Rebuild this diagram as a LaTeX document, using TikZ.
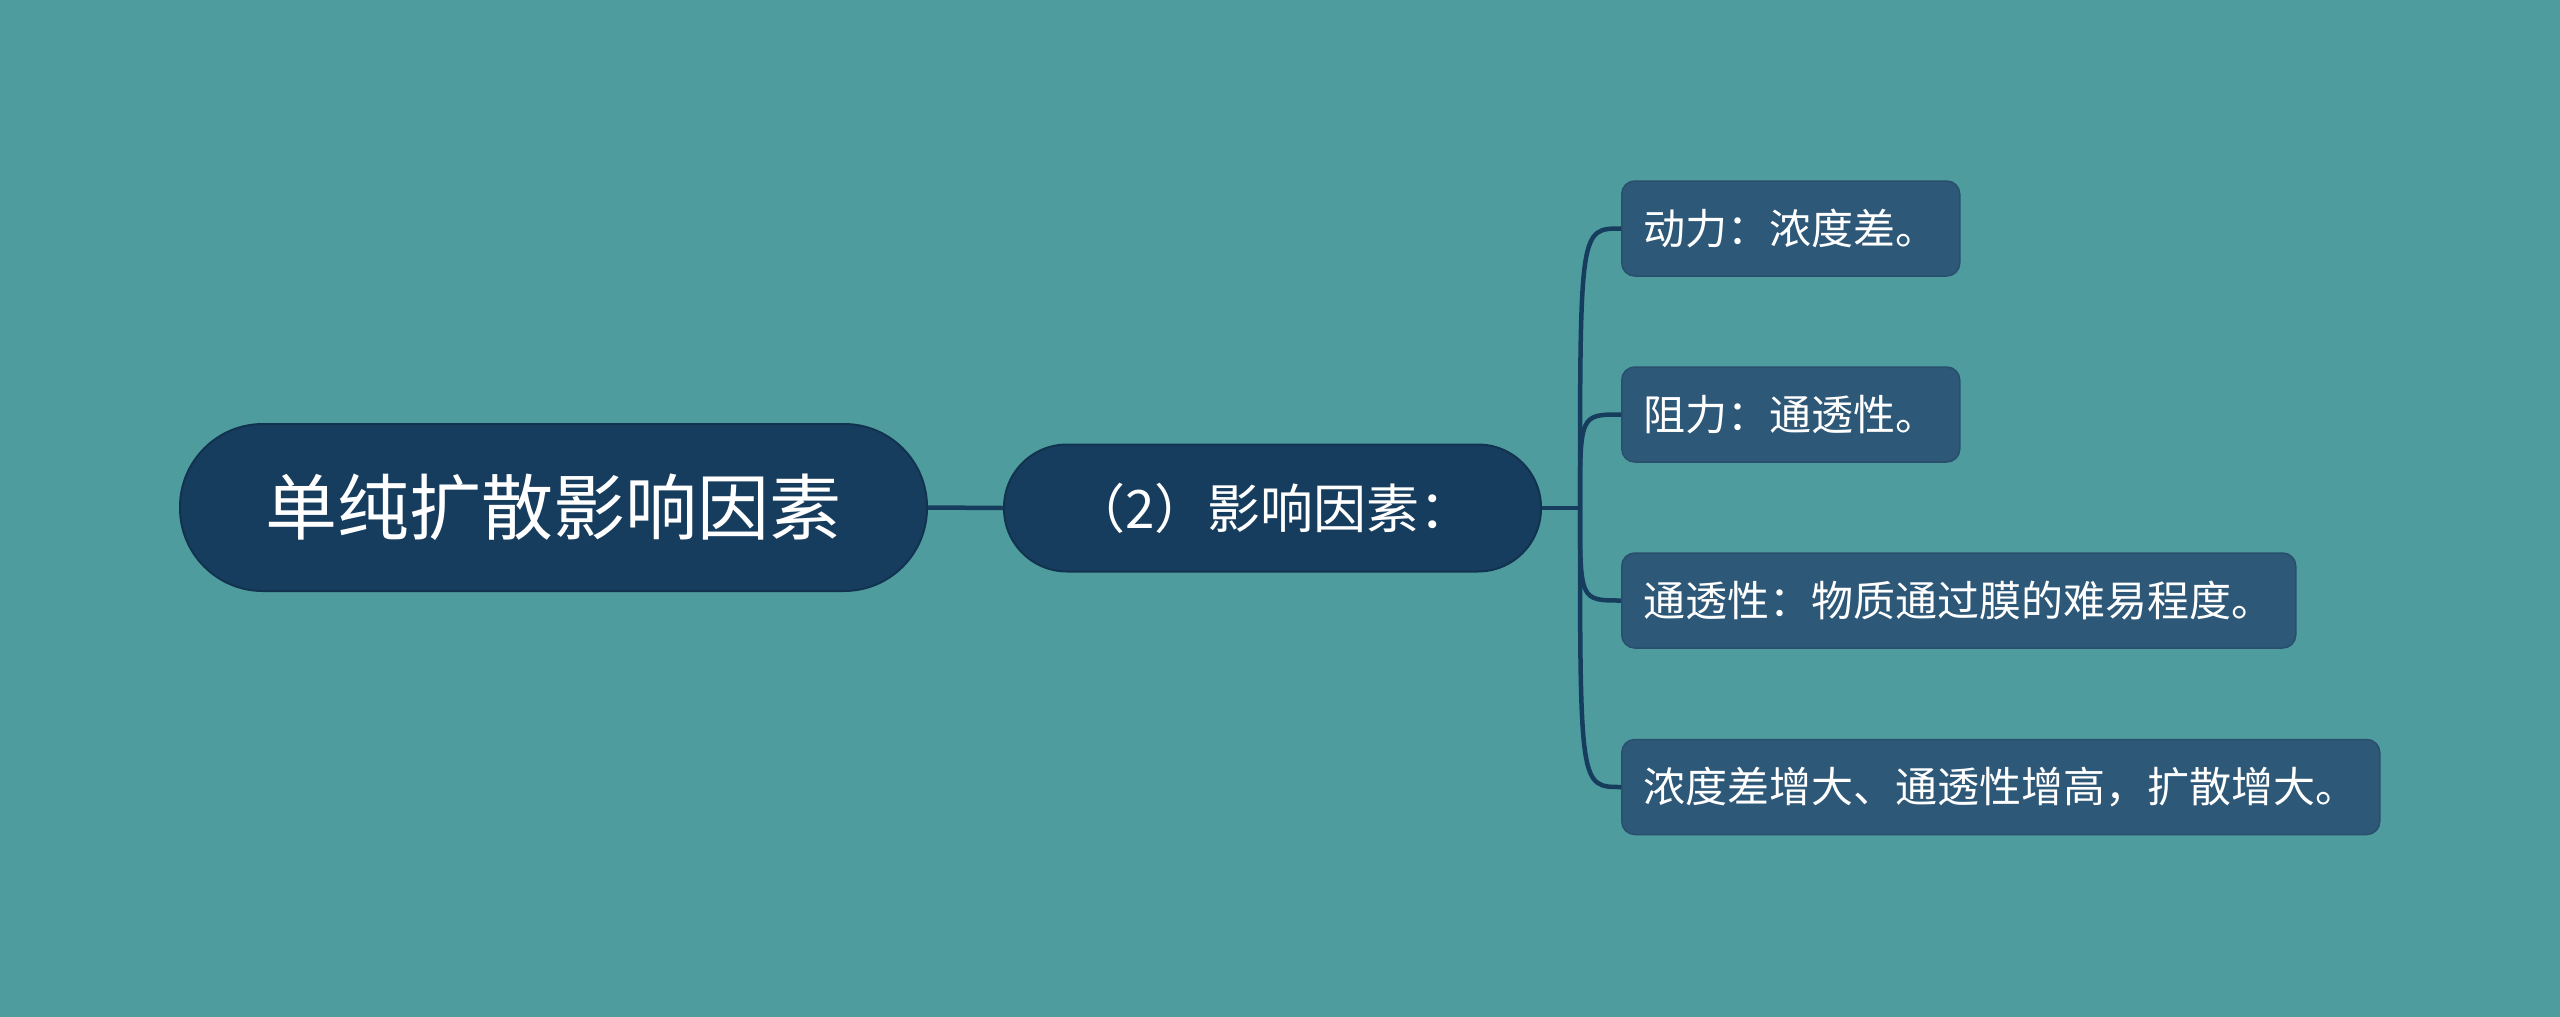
\documentclass[tikz,border=0pt]{standalone}
\usepackage{fontspec}
\setmainfont{Noto Sans CJK SC}
\definecolor{bgc}{HTML}{4E9C9D}
\definecolor{darkc}{HTML}{173D5E}
\definecolor{darkb}{HTML}{12334F}
\definecolor{leafc}{HTML}{2E5878}
\definecolor{leafb}{HTML}{294F6D}
\tikzset{
  rootbox/.style={fill=darkc, draw=darkb, line width=2pt, rounded corners=83pt,
    minimum width=747pt, minimum height=167pt, inner sep=0pt, text=white,
    font=\fontsize{72pt}{80pt}\selectfont},
  midbox/.style={fill=darkc, draw=darkb, line width=2pt, rounded corners=63pt,
    minimum width=537pt, minimum height=127pt, inner sep=0pt, text=white,
    font=\fontsize{53pt}{60pt}\selectfont},
  leafbox/.style={fill=leafc, draw=leafb, line width=1.5pt, rounded corners=13pt,
    minimum height=95pt, inner xsep=22pt, inner ysep=0pt, text=white, anchor=west,
    font=\fontsize{42pt}{48pt}\selectfont},
  conn/.style={draw=darkc, line width=4.5pt}
}
\begin{document}
\begin{tikzpicture}[x=1pt,y=-1pt]
\fill[bgc] (0,0) rectangle (2560,1017);
\useasboundingbox (0,0) rectangle (2560,1017);
\node[rootbox] (root) at (553.5,507.5) {单纯扩散影响因素};
\node[midbox] (mid) at (1272.5,508) {（2）影响因素：};
\coordinate (trunk) at (1580,508);
\node[leafbox] (l1) at (1621,228.5) {动力：浓度差。};
\node[leafbox] (l2) at (1621,414.5) {阻力：通透性。};
\node[leafbox] (l3) at (1621,600.5) {通透性：物质通过膜的难易程度。};
\node[leafbox] (l4) at (1621,787) {浓度差增大、通透性增高，扩散增大。};
\draw[conn] (root.east) -- (mid.west);
\draw[conn] (mid.east) -- (trunk);
\foreach \l in {l1,l2,l3,l4}{
  \draw[conn] (trunk) .. controls (trunk |- \l.west) .. (\l.west);
}
\end{tikzpicture}
\end{document}
